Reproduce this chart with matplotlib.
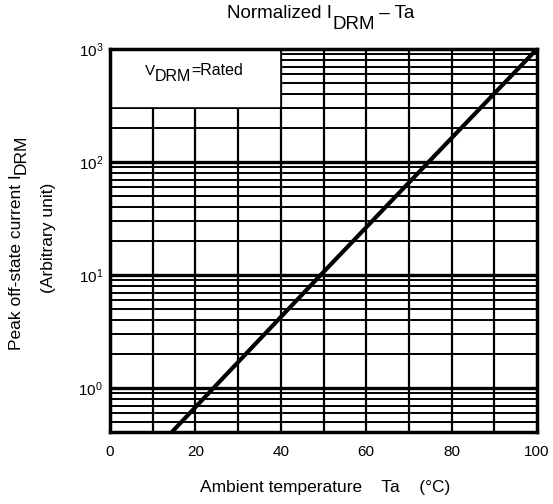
import numpy as np
import matplotlib.pyplot as plt
from matplotlib.patches import Rectangle
from matplotlib.ticker import FixedLocator, FixedFormatter
from matplotlib.transforms import IdentityTransform

plt.rcParams['font.family'] = ['Liberation Sans', 'DejaVu Sans']
plt.rcParams['mathtext.fontset'] = 'custom'
plt.rcParams['mathtext.rm'] = 'Liberation Sans'
plt.rcParams['mathtext.it'] = 'Liberation Sans'

# données
ta = [14.5, 24.2, 49.3, 74.6, 100]
idrm = [0.41, 1.0, 10.0, 100.0, 1000.0]

xticks = [0, 20, 40, 60, 80, 100]
yticks = [1, 10, 100, 1000]
ylabels = ["$10^0$", "$10^1$", "$10^2$", "$10^3$"]

W, H = 553, 504
fig = plt.figure(figsize=(W / 100, H / 100), dpi=100)
ax = fig.add_axes([110 / W, 1 - 432 / H, 427 / W, 383 / H])
ax.set_yscale("log")
ax.set_xlim(0, 100)
ax.set_ylim(0.41, 1000)

# grille
for x in range(10, 100, 10):
    ax.axvline(x, color="black", lw=1.6, zorder=1)
for d in [0.1, 1, 10, 100]:
    for k in range(2, 10):
        v = d * k
        if 0.41 < v < 1000:
            ax.axhline(v, color="black", lw=1.4, zorder=1)
for v in [1, 10, 100]:
    ax.axhline(v, color="black", lw=2.4, zorder=1)

# cadre blanc
ax.add_patch(Rectangle((0, 300), 40, 700, facecolor="white", edgecolor="black",
                       lw=1.2, zorder=2))

ax.plot(ta, idrm, color="black", lw=3, zorder=4)

ax.xaxis.set_major_locator(FixedLocator(xticks))
ax.yaxis.set_major_locator(FixedLocator(yticks))
ax.yaxis.set_major_formatter(FixedFormatter(ylabels))
ax.yaxis.set_minor_locator(FixedLocator([]))
ax.tick_params(length=0, labelsize=11)
ax.tick_params(axis="x", pad=9)
ax.tick_params(axis="y", pad=5)
for s in ax.spines.values():
    s.set_linewidth(2.5)


# texte avec indice de même taille (coordonnées en pixels, origine en haut à gauche)
def texte_h(x, y, morceaux):
    prev = None
    for s, taille, dy in morceaux:
        yy = H - (y + dy)
        if prev is None:
            prev = fig.text(x, yy, s, transform=IdentityTransform(), fontsize=taille,
                            ha="left", va="baseline")
        else:
            prev = ax.annotate(s, xy=(1, yy), xycoords=(prev, "figure pixels"),
                               fontsize=taille, ha="left", va="baseline",
                               annotation_clip=False)


def texte_v(x, y, morceaux):
    prev = None
    for s, taille, dx in morceaux:
        if prev is None:
            prev = fig.text(x + dx, H - y, s, transform=IdentityTransform(), fontsize=taille,
                            rotation=90, rotation_mode="anchor", ha="left", va="baseline")
        else:
            prev = ax.annotate(s, xy=(x + dx, 1), xycoords=("figure pixels", prev),
                               fontsize=taille, rotation=90, rotation_mode="anchor",
                               ha="left", va="baseline", annotation_clip=False)


texte_h(227, 18, [("Normalized I", 13.5, 0), ("DRM", 13.5, 11), (" – Ta", 13.5, 0)])
texte_h(145, 75, [("V", 11, 0), ("DRM", 11.5, 6), ("=Rated", 11.5, 0)])
texte_v(21, 350, [("Peak off-state current I", 12.5, 0), ("DRM", 12.5, 5)])
fig.text(53, H - 238, "(Arbitrary unit)", transform=IdentityTransform(), fontsize=12.5,
         rotation=90, rotation_mode="anchor", ha="center", va="baseline")
fig.text(325, H - 492, "Ambient temperature    Ta    (°C)", transform=IdentityTransform(),
         fontsize=12.5, ha="center", va="baseline")

fig.savefig("out.png", dpi=100)
